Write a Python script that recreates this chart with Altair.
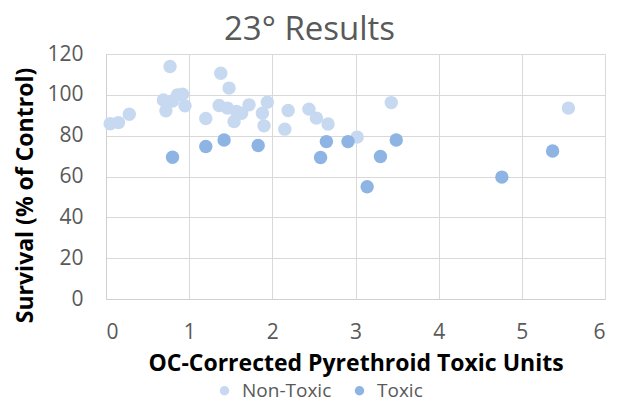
import altair as alt
import pandas as pd

# Non-Toxic series
nt_x = [0.05, 0.15, 0.28, 0.77, 0.69, 0.72, 0.80, 0.86, 0.92, 0.95, 1.20, 1.38, 1.48, 1.36,
        1.46, 1.54, 1.57, 1.63, 1.72, 1.94, 1.88, 1.90, 2.19, 2.15, 2.44, 2.53, 2.67, 3.02,
        3.43, 5.56]
nt_y = [85.8, 86.4, 90.5, 113.9, 97.5, 92.2, 97.0, 100.0, 100.3, 94.6, 88.4, 110.6, 103.3, 94.8,
        93.5, 86.9, 91.8, 91.0, 95.1, 96.4, 91.0, 84.8, 92.3, 83.2, 93.0, 88.6, 85.7, 79.3,
        96.2, 93.5]
# Toxic series
t_x = [0.80, 1.20, 1.42, 1.83, 2.58, 2.65, 2.91, 3.30, 3.49, 3.14, 4.76, 5.37]
t_y = [69.4, 74.7, 77.9, 75.2, 69.3, 77.1, 77.1, 69.8, 77.9, 55.0, 59.7, 72.5]

series = ["Non-Toxic", "Toxic"]
colors = ["#C6D9F1", "#8EB4E3"]

df = pd.concat([
    pd.DataFrame({"x": nt_x, "y": nt_y, "series": series[0], "order": 0}),
    pd.DataFrame({"x": t_x, "y": t_y, "series": series[1], "order": 1}),
], ignore_index=True)

FONT = "Open Sans"

chart = alt.Chart(df).mark_circle(size=180, opacity=1).encode(
    x=alt.X("x:Q", scale=alt.Scale(domain=[0, 6], nice=False),
            axis=alt.Axis(title="OC-Corrected Pyrethroid Toxic Units", values=[0, 1, 2, 3, 4, 5, 6],
                          labelPadding=22, titlePadding=10, titleFontSize=23)),
    y=alt.Y("y:Q", scale=alt.Scale(domain=[0, 120], nice=False),
            axis=alt.Axis(title="Survival (% of Control)", values=[0, 20, 40, 60, 80, 100, 120],
                          labelPadding=23, titleX=-81, titleY=141, titleAngle=270,
                          titleAlign="center", titleBaseline="middle", titleFontSize=23)),
    color=alt.Color("series:N", scale=alt.Scale(domain=series, range=colors),
                    legend=alt.Legend(title=None, orient="none", direction="horizontal",
                                      legendX=109, legendY=327, symbolSize=90,
                                      labelFontSize=19, labelColor="#595959", labelFont=FONT,
                                      symbolType="circle", columnPadding=18, labelOffset=8)),
    order=alt.Order("order:Q"),
).properties(
    width=499, height=245,
    title=alt.TitleParams("23° Results", fontSize=33, fontWeight="normal", color="#595959",
                          font=FONT, anchor="middle", dx=-46, dy=11, offset=7),
    autosize=alt.AutoSizeParams(type="none"),
    padding={"left": 98, "top": 46, "right": 5, "bottom": 103},
).configure_axis(
    grid=True, gridColor="#D9D9D9", gridWidth=1, domainColor="#D0D0D0", ticks=False,
    labelFont=FONT, labelFontSize=21, labelColor="#595959",
    titleFont=FONT, titleFontWeight="bold", titleColor="#000000",
).configure_view(stroke=None)

chart.save("out.html", embed_options={"renderer": "svg", "actions": False})
